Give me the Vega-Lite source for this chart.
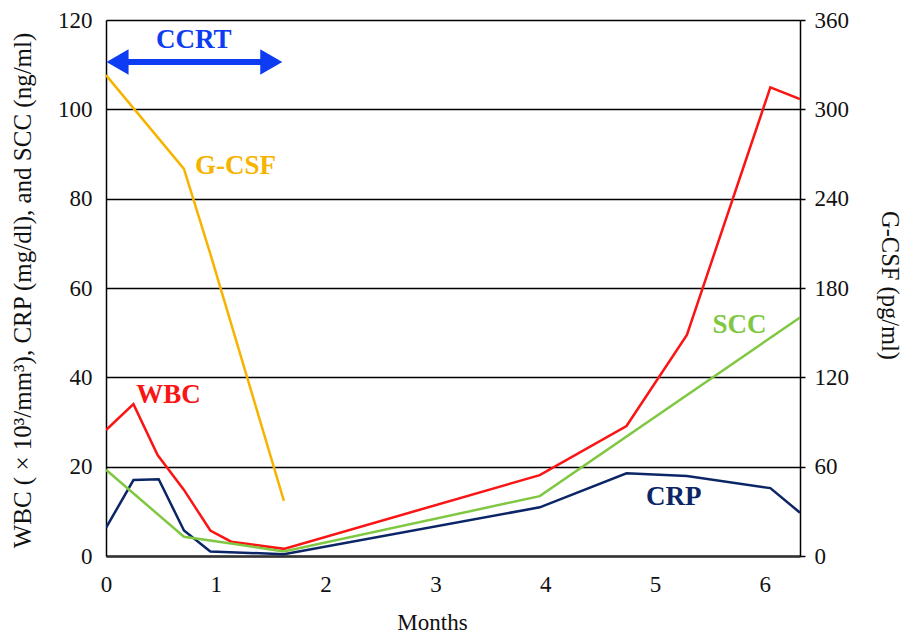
{
  "$schema": "https://vega.github.io/schema/vega-lite/v6.json",
  "width": 694,
  "height": 536,
  "autosize": {"type": "none"},
  "padding": {"left": 106, "top": 20, "right": 109, "bottom": 80},
  "background": "white",
  "config": {
    "view": {"stroke": null},
    "font": "Liberation Serif",
    "axis": {"labelFont": "Liberation Serif", "titleFont": "Liberation Serif", "labelColor": "#111", "titleColor": "#111", "titleFontWeight": "normal"}
  },
  "datasets": {
    "left": [
      {"series": "WBC", "month": 0, "value": 28.2},
      {"series": "WBC", "month": 0.25, "value": 34.0},
      {"series": "WBC", "month": 0.47, "value": 22.6},
      {"series": "WBC", "month": 0.71, "value": 14.8},
      {"series": "WBC", "month": 0.95, "value": 5.7},
      {"series": "WBC", "month": 1.14, "value": 3.2},
      {"series": "WBC", "month": 1.62, "value": 1.6},
      {"series": "WBC", "month": 3.95, "value": 18.1},
      {"series": "WBC", "month": 4.74, "value": 29.1},
      {"series": "WBC", "month": 5.29, "value": 49.5},
      {"series": "WBC", "month": 6.05, "value": 104.9},
      {"series": "WBC", "month": 6.32, "value": 102.3},
      {"series": "CRP", "month": 0, "value": 6.3},
      {"series": "CRP", "month": 0.25, "value": 17.0},
      {"series": "CRP", "month": 0.48, "value": 17.2},
      {"series": "CRP", "month": 0.71, "value": 5.7},
      {"series": "CRP", "month": 0.95, "value": 1.0},
      {"series": "CRP", "month": 1.62, "value": 0.4},
      {"series": "CRP", "month": 3.95, "value": 10.9},
      {"series": "CRP", "month": 4.74, "value": 18.5},
      {"series": "CRP", "month": 5.29, "value": 17.9},
      {"series": "CRP", "month": 6.05, "value": 15.2},
      {"series": "CRP", "month": 6.32, "value": 9.7},
      {"series": "SCC", "month": 0, "value": 19.3},
      {"series": "SCC", "month": 0.71, "value": 4.3},
      {"series": "SCC", "month": 1.14, "value": 2.8},
      {"series": "SCC", "month": 1.62, "value": 1.0},
      {"series": "SCC", "month": 3.95, "value": 13.4},
      {"series": "SCC", "month": 6.32, "value": 53.4}
    ],
    "gcsf": [
      {"month": 0, "gcsf": 323},
      {"month": 0.71, "gcsf": 260},
      {"month": 0.95, "gcsf": 203},
      {"month": 1.62, "gcsf": 37}
    ],
    "labels": [
      {"label": "WBC", "month": 0.57, "value": 36, "series": "WBC"},
      {"label": "G-CSF", "month": 1.18, "value": 87.3, "series": "G-CSF"},
      {"label": "SCC", "month": 5.77, "value": 51.7, "series": "SCC"},
      {"label": "CRP", "month": 5.17, "value": 13.3, "series": "CRP"},
      {"label": "CCRT", "month": 0.8, "value": 115.5, "series": "CCRT"}
    ],
    "arrow": [
      {"start": 0.12, "end": 1.48, "level": 110.6}
    ],
    "heads": [
      {"month": 0.105, "level": 110.6, "dir": "triangle-left"},
      {"month": 1.505, "level": 110.6, "dir": "triangle-right"}
    ]
  },
  "resolve": {"scale": {"y": "independent"}, "axis": {"y": "independent"}},
  "layer": [
    {
      "layer": [
        {
          "data": {"name": "left"},
          "mark": {"type": "line", "strokeWidth": 2.5, "clip": true},
          "encoding": {
            "x": {
              "field": "month", "type": "quantitative",
              "scale": {"domain": [0, 6.32], "nice": false, "zero": false},
              "axis": {
                "values": [0, 1, 2, 3, 4, 5, 6], "format": "d", "labelFlush": false, "title": "Months", "grid": false,
                "ticks": false, "labelFontSize": 23, "labelPadding": 17,
                "domainColor": "#333", "domainWidth": 2.5,
                "titleFontSize": 23, "titleX": 326, "titleY": 66, "titleBaseline": "middle"
              }
            },
            "y": {
              "field": "value", "type": "quantitative",
              "scale": {"domain": [0, 120], "nice": false},
              "axis": {
                "values": [0, 20, 40, 60, 80, 100, 120],
                "title": "WBC ( × 10³/mm³), CRP (mg/dl), and SCC (ng/ml)",
                "grid": true, "gridColor": "#000", "gridWidth": 1.5, "gridOpacity": 1,
                "ticks": false, "labelFontSize": 23, "labelPadding": 14, "labelFlush": false,
                "domainColor": "#000", "domainWidth": 1.5,
                "titleFontSize": 25, "titleX": -84, "titleY": 270, "titleAngle": -90,
                "titleAlign": "center", "titleBaseline": "middle"
              }
            },
            "color": {
              "field": "series", "type": "nominal",
              "scale": {"domain": ["WBC", "CRP", "SCC", "G-CSF", "CCRT"], "range": ["#fa1414", "#0c2566", "#80c843", "#f6b400", "#0d3cf2"]},
              "legend": null
            }
          }
        },
        {
          "data": {"name": "labels"},
          "mark": {"type": "text", "fontSize": 27, "fontWeight": "bold", "font": "Liberation Serif", "baseline": "middle", "align": "center"},
          "encoding": {
            "x": {"field": "month", "type": "quantitative"},
            "y": {"field": "value", "type": "quantitative"},
            "text": {"field": "label"},
            "color": {"field": "series", "type": "nominal", "legend": null}
          }
        },
        {
          "data": {"name": "arrow"},
          "mark": {"type": "rule", "strokeWidth": 6, "color": "#0d3cf2"},
          "encoding": {
            "x": {"field": "start", "type": "quantitative"},
            "x2": {"field": "end"},
            "y": {"field": "level", "type": "quantitative"}
          }
        },
        {
          "data": {"name": "heads"},
          "mark": {"type": "point", "filled": true, "opacity": 1, "size": 650, "color": "#0d3cf2"},
          "encoding": {
            "x": {"field": "month", "type": "quantitative"},
            "y": {"field": "level", "type": "quantitative"},
            "shape": {"field": "dir", "type": "nominal", "scale": {"domain": ["triangle-left", "triangle-right"], "range": ["triangle-left", "triangle-right"]}, "legend": null}
          }
        }
      ]
    },
    {
      "data": {"name": "gcsf"},
      "mark": {"type": "line", "strokeWidth": 2.5, "color": "#f6b400"},
      "encoding": {
        "x": {"field": "month", "type": "quantitative"},
        "y": {
          "field": "gcsf", "type": "quantitative",
          "scale": {"domain": [0, 360], "nice": false},
          "axis": {
            "orient": "right", "values": [0, 60, 120, 180, 240, 300, 360],
            "title": "G-CSF (pg/ml)", "grid": false, "labelFlush": false,
            "ticks": true, "tickSize": 5, "tickColor": "#000", "tickWidth": 1.5,
            "labelFontSize": 23, "labelPadding": 9,
            "domainColor": "#000", "domainWidth": 1.5,
            "titleFontSize": 24.5, "titleX": 88, "titleY": 265, "titleAngle": 90,
            "titleAlign": "center", "titleBaseline": "middle"
          }
        }
      }
    }
  ]
}
